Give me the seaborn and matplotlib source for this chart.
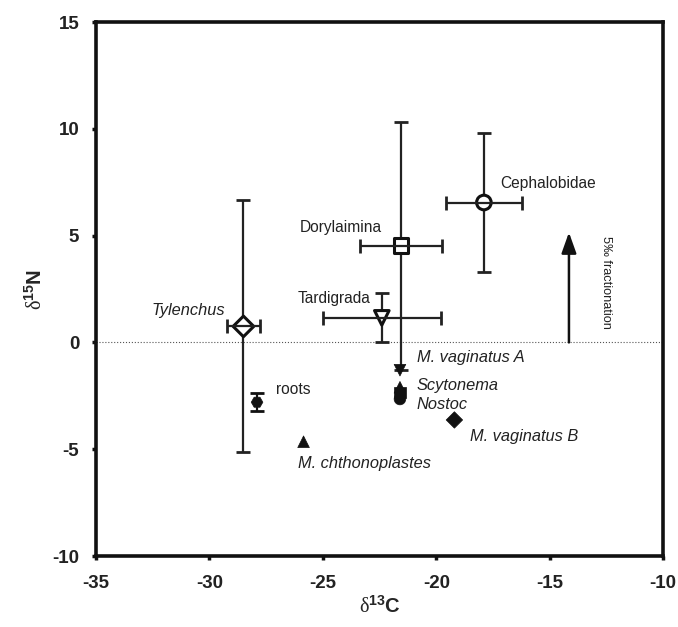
import numpy as np
import pandas as pd
import matplotlib
matplotlib.use('Agg')
import matplotlib.pyplot as plt
import seaborn as sns

# consumers with error bars (open markers)
taxa = ['Tylenchus', 'Tardigrada', 'Dorylaimina', 'Cephalobidae']
taxa_c = [-28.5, -22.4, -21.55, -17.9]
taxa_n = [0.75, 1.15, 4.53, 6.55]
taxa_c_err = [0.73, 2.6, 1.8, 1.69]
taxa_n_err = [5.9, 1.15, 5.8, 3.24]
taxa_markers = ['D', 'v', 's', 'o']

# food sources (filled markers)
sources = ['roots', 'M. vaginatus A', 'Scytonema', 'cyano', 'Nostoc', 'M. vaginatus B', 'M. chthonoplastes']
src_c = [-27.9, -21.6, -21.6, -21.6, -21.6, -19.2, -25.85]
src_n = [-2.8, -1.3, -2.1, -2.35, -2.65, -3.63, -4.65]
src_n_err = [0.43, 0, 0, 0, 0, 0, 0]
src_markers = ['H', 'v', '^', 's', 'o', 'D', '^']

sns.set_style('ticks')
plt.rcParams['font.family'] = ['Liberation Sans', 'DejaVu Sans']
plt.rcParams['axes.unicode_minus'] = False
plt.rcParams['mathtext.fontset'] = 'custom'
plt.rcParams['mathtext.rm'] = 'Liberation Serif'
plt.rcParams['mathtext.bf'] = 'Liberation Sans:bold'

fig = plt.figure(figsize=(6.78, 6.27), dpi=100)
ax = fig.add_axes([0.1416, 0.1132, 0.8364, 0.8517])

ax.axhline(0, color='#555555', lw=0.8, ls=':', zorder=0)

# vertical error bars below markers, horizontal ones above (as in the original)
ax.errorbar(taxa_c, taxa_n, yerr=taxa_n_err, fmt='none', ecolor='#222222',
            elinewidth=1.6, capsize=5, capthick=2, zorder=1)

tdf = pd.DataFrame({'c': taxa_c, 'n': taxa_n, 'taxon': taxa})
sns.scatterplot(data=tdf, x='c', y='n', style='taxon',
                markers=dict(zip(taxa, taxa_markers)), s=110,
                facecolor='white', edgecolor='#111111', linewidth=2.2,
                legend=False, zorder=2, ax=ax)

ax.errorbar(taxa_c, taxa_n, xerr=taxa_c_err, fmt='none', ecolor='#222222',
            elinewidth=1.6, capsize=5, capthick=2, zorder=3)

ax.errorbar(src_c[:1], src_n[:1], yerr=src_n_err[:1], fmt='none', ecolor='#111111',
            elinewidth=1.6, capsize=5, capthick=2, zorder=1)
sdf = pd.DataFrame({'c': src_c, 'n': src_n, 'source': sources})
sns.scatterplot(data=sdf, x='c', y='n', style='source',
                markers=dict(zip(sources, src_markers)), s=70,
                color='#111111', edgecolor='#111111', linewidth=0.5,
                legend=False, zorder=4, ax=ax)

# labels
label_kw = dict(fontsize=11.2, color='#222222', va='center')
ital_kw = dict(fontsize=11.8, color='#222222', va='center', style='italic')
ax.text(-17.2, 7.45, 'Cephalobidae', ha='left', **label_kw)
ax.text(-22.4, 5.4, 'Dorylaimina', ha='right', **label_kw)
ax.text(-22.9, 2.05, 'Tardigrada', ha='right', **label_kw)
ax.text(-29.3, 1.5, 'Tylenchus', ha='right', **ital_kw)
ax.text(-27.05, -2.2, 'roots', ha='left', **label_kw)
ax.text(-20.85, -0.7, 'M. vaginatus A', ha='left', **ital_kw)
ax.text(-20.85, -2.0, 'Scytonema', ha='left', **ital_kw)
ax.text(-20.85, -2.9, 'Nostoc', ha='left', **ital_kw)
ax.text(-18.5, -4.4, 'M. vaginatus B', ha='left', **ital_kw)
ax.text(-26.1, -5.65, 'M. chthonoplastes', ha='left', **ital_kw)

# fractionation arrow
ax.annotate('', xy=(-14.15, 5.15), xytext=(-14.15, 0.0),
            arrowprops=dict(arrowstyle='-|>,head_length=0.7,head_width=0.25',
                            color='#111111', lw=1.8,
                            mutation_scale=18, shrinkA=0, shrinkB=0))
ax.text(-12.5, 2.8, '5‰ fractionation', rotation=-90, ha='center', va='center',
        fontsize=9.2, color='#222222')

ax.set_xlim(-35, -10)
ax.set_ylim(-10, 15)
ax.set_xticks(np.arange(-35, -9, 5))
ax.set_yticks(np.arange(-10, 16, 5))
for s in ax.spines.values():
    s.set_visible(True)
    s.set_linewidth(2.6)
    s.set_color('#111111')
ax.tick_params(direction='out', length=3, width=2.5, color='#111111',
               labelsize=13.5)
ax.tick_params(axis='x', pad=11)
ax.tick_params(axis='y', pad=9)
for lab in ax.get_xticklabels() + ax.get_yticklabels():
    lab.set_fontweight('bold')
    lab.set_color('#222222')

ax.set_xlabel(r'$\mathrm{\delta}^{\mathbf{13}}\mathbf{C}$', fontsize=14.5, labelpad=2)
ax.set_ylabel(r'$\mathrm{\delta}^{\mathbf{15}}\mathbf{N}$', fontsize=14.5, labelpad=5)

fig.savefig('out.png', dpi=100)
